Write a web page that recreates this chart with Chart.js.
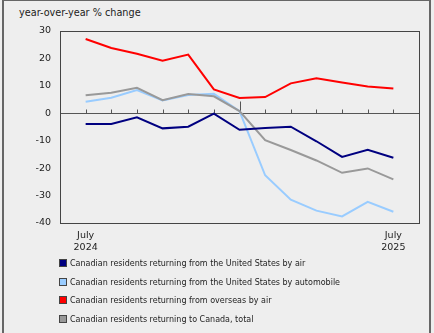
<!DOCTYPE html>
<html>
<head>
<meta charset="utf-8">
<script src="https://cdn.jsdelivr.net/npm/chart.js@4/dist/chart.umd.min.js"></script>
<style>
  html, body { margin: 0; padding: 0; background: #eeeeee; }
  #wrap { position: relative; width: 434px; height: 333px; overflow: hidden; font-family: "DejaVu Sans", Verdana, sans-serif; color: #222; }
  #frame { position: absolute; left: 2px; top: 0; width: 429px; height: 340px; border-left: 2px solid #666; border-right: 2px solid #666; border-top: 1px solid #666; box-sizing: border-box; }
  #titulo { position: absolute; left: 19px; top: 7px; font-size: 9.7px; }
  #grafico { position: absolute; left: 0; top: 0; }
  #leyenda { position: absolute; left: 59px; top: 259px; font-size: 8px; }
  .item { height: 18.7px; line-height: 10px; white-space: nowrap; }
  .caja { display: inline-block; width: 6px; height: 6px; border: 1px solid #444; vertical-align: -1px; margin-right: 3px; }
</style>
</head>
<body>
<div id="wrap">
  <div id="frame"></div>
  <div id="titulo">year-over-year % change</div>
  <canvas id="grafico" width="434" height="333"></canvas>
  <div id="leyenda"></div>
</div>
<script>
// Meses (julio 2024 a julio 2025)
var meses = ["July 2024", "Aug", "Sep", "Oct", "Nov", "Dec", "Jan 2025", "Feb", "Mar", "Apr", "May", "Jun", "July 2025"];
var etiquetasX = { 0: ["July", "2024"], 12: ["July", "2025"] };
var ticksY = [-40, -30, -20, -10, 0, 10, 20, 30];

var nombres = [
  "Canadian residents returning from the United States by air",
  "Canadian residents returning from the United States by automobile",
  "Canadian residents returning from overseas by air",
  "Canadian residents returning to Canada, total"
];
var colores = ["#000080", "#99ccff", "#ff0000", "#999999"];

// Valores
var eeuuAvion = [-3.9, -3.9, -1.5, -5.5, -4.9, -0.1, -6.0, -5.4, -4.9, -10.2, -15.9, -13.3, -16.2];
var eeuuAuto = [4.2, 5.7, 8.5, 4.7, 6.7, 7.1, 0.8, -22.6, -31.5, -35.5, -37.6, -32.3, -35.9];
var ultramarAvion = [27.1, 23.8, 21.7, 19.2, 21.4, 8.7, 5.6, 5.9, 10.9, 12.8, 11.2, 9.8, 9.0];
var total = [6.6, 7.5, 9.3, 4.8, 7.0, 6.2, 0.8, -9.8, -13.4, -17.2, -21.7, -20.1, -24.1];

var series = [eeuuAvion, eeuuAuto, ultramarAvion, total];

/*Función para armar los puntos de una serie*/
function puntos(valores) {
  return valores.map(function (v, i) { return { x: i, y: v }; });
}

/*Plugin: marco del área, marcas sobre el eje cero*/
var marcas = {
  id: "marcas",
  beforeDatasetsDraw: function (chart) {
    var ctx = chart.ctx;
    var a = chart.chartArea;
    var x = chart.scales.x, y = chart.scales.y;
    var y0 = Math.round(y.getPixelForValue(0)) + 0.5;
    ctx.save();
    ctx.strokeStyle = "#555";
    ctx.lineWidth = 1;
    ctx.beginPath();
    ctx.moveTo(a.left, y0);
    ctx.lineTo(a.right, y0);
    for (var i = 0; i < meses.length; i++) {
      var px = Math.round(x.getPixelForValue(i)) + 0.5;
      var largo = meses[i].indexOf("Jan") === 0 ? 12 : 4;
      ctx.moveTo(px, y0);
      ctx.lineTo(px, y0 - largo);
    }
    ctx.stroke();
    ctx.strokeStyle = "#444";
    ctx.strokeRect(Math.round(a.left) + 0.5, Math.round(a.top) + 0.5, Math.round(a.right - a.left), Math.round(a.bottom - a.top));
    ctx.restore();
  }
};

var datasets = series.map(function (s, k) {
  return {
    label: nombres[k],
    data: puntos(s),
    borderColor: colores[k],
    backgroundColor: colores[k],
    borderWidth: 2,
    pointRadius: 0,
    tension: 0,
    order: k === 0 ? 0 : 4 - k
  };
});

var fuente = { family: "'DejaVu Sans', Verdana, sans-serif", size: 9.5 };

new Chart(document.getElementById("grafico"), {
  type: "line",
  data: { datasets: datasets },
  options: {
    responsive: false,
    animation: false,
    layout: { padding: { top: 31, right: 15, left: 0, bottom: 0 } },
    plugins: { legend: { display: false }, tooltip: { enabled: false } },
    scales: {
      x: {
        type: "linear",
        min: -1,
        max: 13,
        afterFit: function (s) { s.height = 110; },
        afterBuildTicks: function (s) { s.ticks = [{ value: 0 }, { value: 12 }]; },
        grid: { display: false, drawTicks: false },
        border: { display: false },
        ticks: {
          color: "#222",
          font: fuente,
          padding: 7,
          maxRotation: 0,
          autoSkip: false,
          callback: function (v) { return etiquetasX[v] || ""; }
        }
      },
      y: {
        min: -40,
        max: 30,
        afterFit: function (s) { s.width = 60; },
        afterBuildTicks: function (s) { s.ticks = ticksY.map(function (t) { return { value: t }; }); },
        grid: { display: false, drawTicks: false },
        border: { display: false },
        ticks: { color: "#222", font: fuente, padding: 9 }
      }
    }
  },
  plugins: [marcas]
});

// Leyenda en HTML
var html = "";
for (var k = 0; k < nombres.length; k++) {
  html += '<div class="item"><span class="caja" style="background:' + colores[k] + '"></span>' + nombres[k] + "</div>";
}
document.getElementById("leyenda").innerHTML = html;
</script>
</body>
</html>
